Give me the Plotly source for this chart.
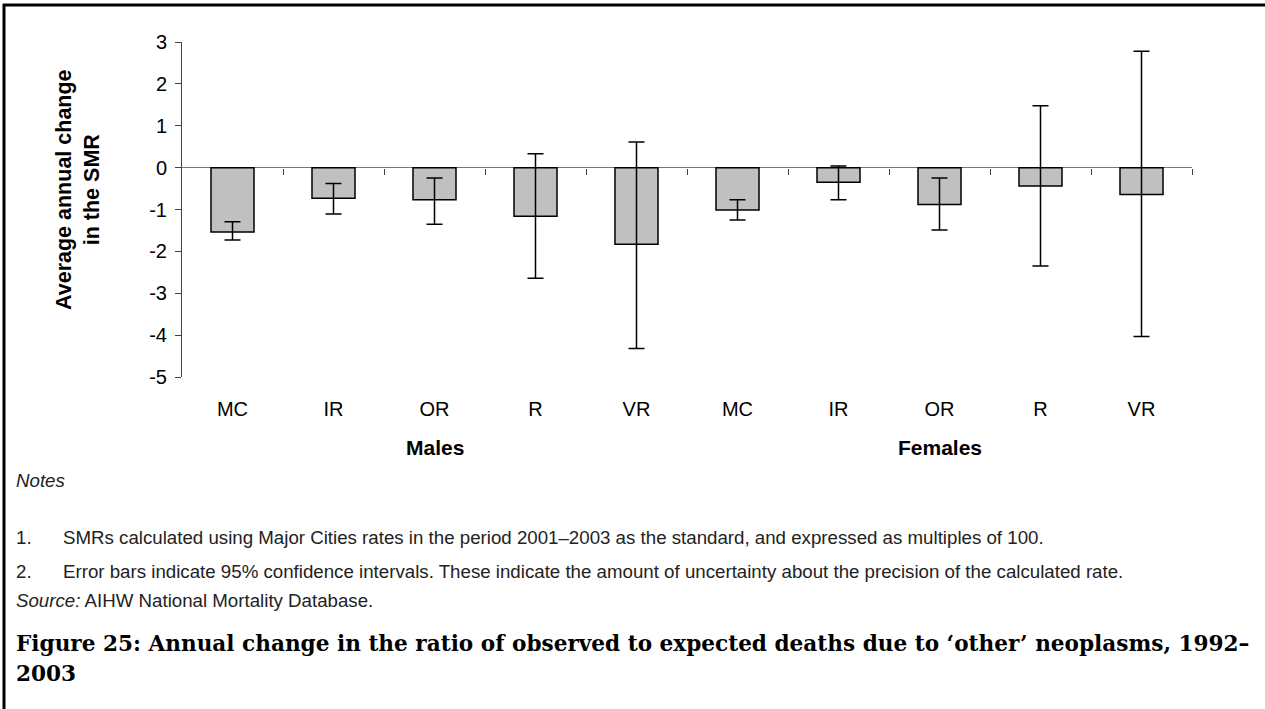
import plotly.graph_objects as go

# categories and data
categories = ["MC", "IR", "OR", "R", "VR", "MC", "IR", "OR", "R", "VR"]
groups = ["Males", "Females"]
change = [-1.54, -0.73, -0.77, -1.16, -1.83, -1.01, -0.35, -0.88, -0.44, -0.64]
ci_upper = [-1.29, -0.38, -0.25, 0.33, 0.61, -0.77, 0.04, -0.25, 1.48, 2.78]
ci_lower = [-1.73, -1.11, -1.35, -2.64, -4.32, -1.25, -0.77, -1.49, -2.35, -4.03]
y_ticks = [3, 2, 1, 0, -1, -2, -3, -4, -5]

notes = [
    ("<i>Notes</i>", None),
    ("1.", "SMRs calculated using Major Cities rates in the period 2001\u20132003 as the standard, and expressed as multiples of 100."),
    ("2.", "Error bars indicate 95% confidence intervals. These indicate the amount of uncertainty about the precision of the calculated rate."),
    ("<i>Source:</i> AIHW National Mortality Database.", None),
]
title_lines = [
    "Figure 25: Annual change in the ratio of observed to expected deaths due to \u2018other\u2019 neoplasms, 1992\u2013",
    "2003",
]

W, H = 1265, 709
L, R, T, B = 182, 73, 42, 332
pw, ph = W - L - R, H - T - B


def px(x):
    return (x - L) / pw


def py(y):
    return (H - B - y) / ph


xs = list(range(len(categories)))
err_plus = [u - v for u, v in zip(ci_upper, change)]
err_minus = [v - lo for v, lo in zip(change, ci_lower)]

fig = go.Figure()
fig.add_trace(go.Bar(
    x=xs, y=change,
    marker=dict(color="#c0c0c0", line=dict(color="black", width=1.5)),
    error_y=dict(type="data", symmetric=False, array=err_plus, arrayminus=err_minus,
                 color="black", thickness=1.5, width=8),
    showlegend=False, hoverinfo="skip",
))
# dummy trace so the tick-only axis at zero gets drawn
fig.add_trace(go.Scatter(x=[], y=[], xaxis="x2", showlegend=False, hoverinfo="skip"))

ann = []
# group labels
for i, g in enumerate(groups):
    ann.append(dict(text="<b>" + g + "</b>", x=2 + 5 * i, xref="x", y=py(447), yref="paper",
                    xanchor="center", yanchor="middle", showarrow=False,
                    font=dict(size=21, color="black")))
# y title
ann.append(dict(text="<b>Average annual change<br>in the SMR</b>", x=px(78), y=py(190),
                xref="paper", yref="paper", xanchor="center", yanchor="middle",
                textangle=-90, showarrow=False, font=dict(size=21.5, color="black")))
# notes
note_y = [480, 537, 571, 600]
for (a, b), yy in zip(notes, note_y):
    ann.append(dict(text=a, x=px(14), y=py(yy), xref="paper", yref="paper", xanchor="left",
                    yanchor="middle", showarrow=False, font=dict(size=18.7, color="#222")))
    if b:
        ann.append(dict(text=b, x=px(61), y=py(yy), xref="paper", yref="paper", xanchor="left",
                        yanchor="middle", showarrow=False, font=dict(size=18.7, color="#222")))
for t, yy in zip(title_lines, [643, 673]):
    ann.append(dict(text="<b>" + t + "</b>", x=px(14), y=py(yy), xref="paper", yref="paper",
                    xanchor="left", yanchor="middle", showarrow=False,
                    font=dict(family="DejaVu Serif", size=21.6, color="black")))

fig.update_layout(
    width=W, height=H,
    margin=dict(l=L, r=R, t=T, b=B),
    paper_bgcolor="white", plot_bgcolor="white",
    font=dict(family="Liberation Sans, Arial", color="black"),
    bargap=0.574,
    annotations=ann,
    shapes=[
        dict(type="line", xref="paper", yref="paper", x0=px(3), x1=px(W), y0=py(5), y1=py(5),
             line=dict(color="black", width=3)),
        dict(type="line", xref="paper", yref="paper", x0=px(4), x1=px(4), y0=py(4), y1=py(H),
             line=dict(color="black", width=3)),
    ],
    xaxis=dict(range=[-0.5, 9.5], tickvals=xs, ticktext=categories, ticks="outside",
               ticklen=14, tickcolor="rgba(0,0,0,0)", showline=False, showgrid=False,
               zeroline=False, tickfont=dict(size=20)),
    xaxis2=dict(overlaying="x", anchor="free", position=5 / 8, range=[-0.5, 9.5],
                tickvals=[i + 0.5 for i in xs], ticks="outside", ticklen=6, tickcolor="#444",
                showticklabels=False, showline=False, showgrid=False, zeroline=False),
    yaxis=dict(range=[-5, 3], tickvals=y_ticks, ticktext=[str(v) for v in y_ticks],
               ticks="outside", ticklen=6, tickcolor="#444", ticklabelstandoff=4,
               showline=True, linecolor="#444", linewidth=1, showgrid=False,
               zeroline=True, zerolinecolor="#777", zerolinewidth=1, tickfont=dict(size=20)),
)

fig.write_html("out.html", config={"displayModeBar": False},
               post_script="document.body.style.margin='0';")
